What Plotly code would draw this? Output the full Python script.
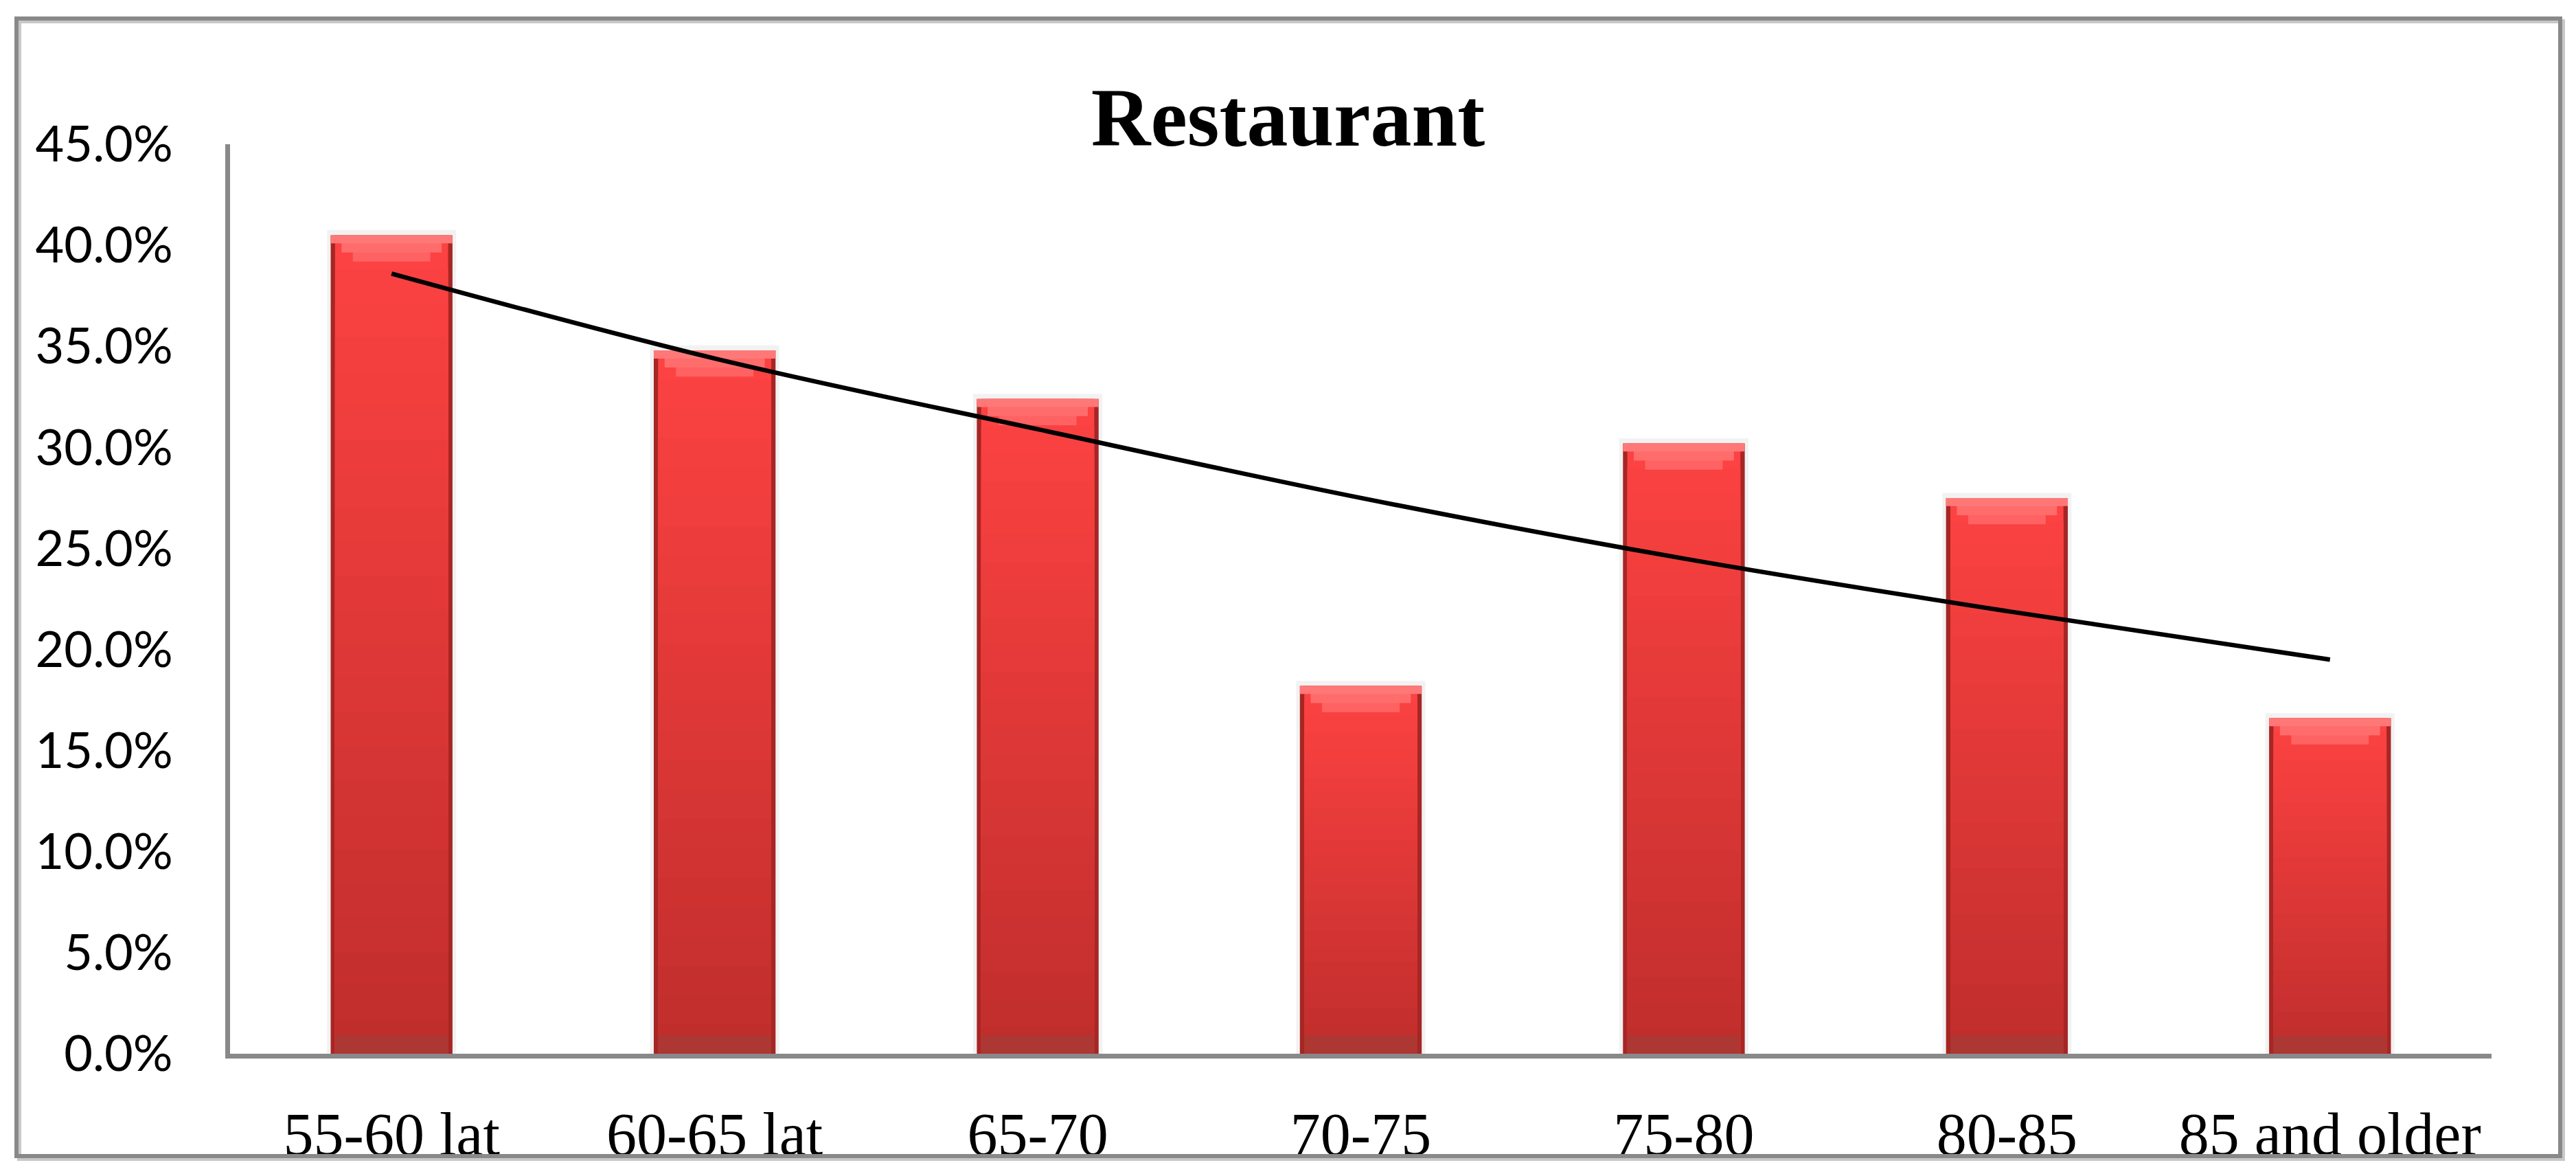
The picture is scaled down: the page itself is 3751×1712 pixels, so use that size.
import plotly.graph_objects as go

# ---------------- data ----------------
categories = ["55-60 lat", "60-65 lat", "65-70", "70-75", "75-80", "80-85", "85 and older"]
values = [40.5, 34.8, 32.4, 18.2, 30.2, 27.5, 16.6]          # percent
trend = [38.6, 34.4, 30.9, 27.5, 24.5, 21.9, 19.5]           # trend line, percent
y_ticks = [0, 5, 10, 15, 20, 25, 30, 35, 40, 45]
title_text = "Restaurant"

# ---------------- layout geometry (page pixels) ----------------
OFF = 8                       # default body margin of the html page
PAGE_W, PAGE_H = 3751, 1712
W, H = PAGE_W - 2 * OFF, PAGE_H - 2 * OFF
L, R, T, B = 335 - OFF, 3628 - OFF, 210 - OFF, 1534 - OFF
pw, ph = R - L, B - T

def px_x(p):
    return (p - OFF - L) / pw

def px_y(p):
    return (B - (p - OFF)) / ph

BAR_W = 0.377
INNER_W = 0.35
TOP_C = (252, 66, 66)
BOT_C = (192, 46, 44)
N = 24

fig = go.Figure()

# soft shadow behind bars
fig.add_trace(go.Bar(x=categories, y=[v + 0.25 for v in values], width=0.40,
                     marker=dict(color="rgba(0,0,0,0.05)", line=dict(width=0)),
                     hoverinfo="skip", showlegend=False))
# dark edge base
fig.add_trace(go.Bar(x=categories, y=values, width=BAR_W,
                     marker=dict(color="#A62624", line=dict(width=0)),
                     hoverinfo="skip", showlegend=False))
# vertical gradient (stepped), relative to each bar's own height
for i in range(N):
    f = 1 - i / N
    t = i / (N - 1)
    c = tuple(round(TOP_C[k] + (BOT_C[k] - TOP_C[k]) * t) for k in range(3))
    fig.add_trace(go.Bar(x=categories, y=[v * f for v in values], width=INNER_W,
                         marker=dict(color="rgb(%d,%d,%d)" % c, line=dict(width=0)),
                         hoverinfo="skip", showlegend=False))
# bottom bevel
fig.add_trace(go.Bar(x=categories, y=[0.9] * len(values), width=INNER_W,
                     marker=dict(color="#AC3733", line=dict(width=0)),
                     hoverinfo="skip", showlegend=False))
# top bevel (lighter, stepped trapezoid)
fig.add_trace(go.Bar(x=categories, y=[1.3] * len(values), base=[v - 1.3 for v in values],
                     width=0.24, marker=dict(color="#FF6262", line=dict(width=0)),
                     hoverinfo="skip", showlegend=False))
fig.add_trace(go.Bar(x=categories, y=[0.85] * len(values), base=[v - 0.85 for v in values],
                     width=0.31, marker=dict(color="#FF6C6C", line=dict(width=0)),
                     hoverinfo="skip", showlegend=False))
fig.add_trace(go.Bar(x=categories, y=[0.4] * len(values), base=[v - 0.4 for v in values],
                     width=BAR_W, marker=dict(color="#FF7878", line=dict(width=0)),
                     hoverinfo="skip", showlegend=False))

# trend line
fig.add_trace(go.Scatter(x=categories, y=trend, mode="lines",
                         line=dict(color="black", width=6.5, shape="spline"),
                         hoverinfo="skip", showlegend=False))

# outer chart border with shadow (page coordinates)
x0, x1, y0, y1 = 24, 3728, 27, 1683
fig.add_shape(type="rect", xref="paper", yref="paper",
              x0=px_x(x0 + 4), x1=px_x(x1 + 4), y0=px_y(y1 + 4), y1=px_y(y0 + 4),
              line=dict(color="#C8C8C8", width=6), layer="below")
fig.add_shape(type="rect", xref="paper", yref="paper",
              x0=px_x(x0), x1=px_x(x1), y0=px_y(y1), y1=px_y(y0),
              line=dict(color="#898989", width=6), fillcolor="rgba(0,0,0,0)", layer="above")

fig.update_layout(
    width=W, height=H,
    margin=dict(l=L, r=W - R, t=T, b=H - B, pad=0, autoexpand=False),
    barmode="overlay",
    paper_bgcolor="white", plot_bgcolor="white",
    title=dict(text="<b>%s</b>" % title_text, x=0.5, xref="container", xanchor="center",
               y=1 - 162 / H, yref="container", yanchor="middle",
               font=dict(family="Liberation Serif, serif", size=120, color="black")),
    xaxis=dict(type="category", range=[-0.5, len(categories) - 0.5], automargin=False,
               showline=True, linecolor="#898989", linewidth=7, showgrid=False,
               ticks="", ticklabelstandoff=34,
               tickfont=dict(family="Liberation Serif, serif", size=88, color="black")),
    yaxis=dict(range=[0, 45], tickvals=y_ticks, automargin=False,
               ticktext=["%.1f%%" % v for v in y_ticks],
               showline=True, linecolor="#898989", linewidth=7, showgrid=False,
               zeroline=False, ticks="", ticklabelstandoff=62,
               tickfont=dict(family="Lato, sans-serif", size=72, color="black")),
)

fig.write_html("out.html")
